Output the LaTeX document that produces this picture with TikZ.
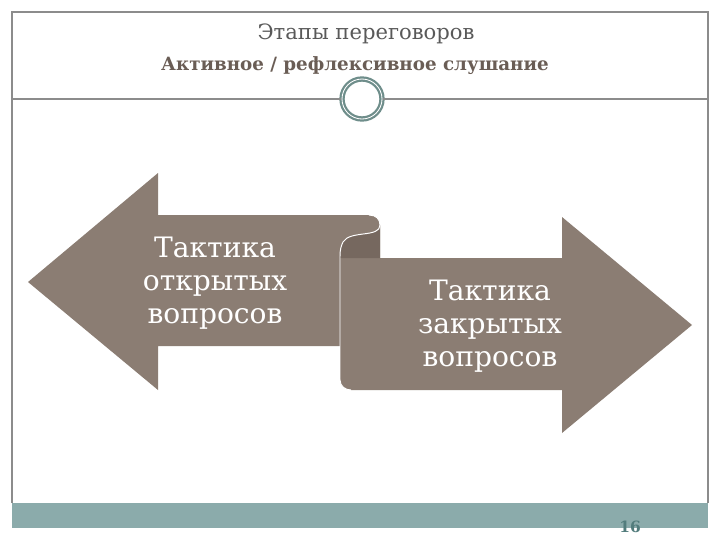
\documentclass[tikz,border=0pt]{standalone}
\usepackage{fontspec}
\setmainfont{DejaVu Serif}
\usepackage{xcolor}
\definecolor{colorShape}{HTML}{8B7D73}
\definecolor{colorCurl}{HTML}{76685F}
\definecolor{colorBar}{HTML}{8BABAB}
\definecolor{colorFrame}{HTML}{8C8C8C}
\definecolor{colorRing}{HTML}{6F8E8B}
\definecolor{colorTitle}{HTML}{595959}
\definecolor{colorSub}{HTML}{6A5D55}
\definecolor{colorNum}{HTML}{527C7C}
\usetikzlibrary{positioning}
\tikzset{shapetext/.style={text=white, align=center, font=\fontsize{20}{23.4}\selectfont}, frameline/.style={draw=colorFrame, line width=0.8pt}}

\begin{document}
\begin{tikzpicture}[x=0.025cm, y=-0.025cm]
\useasboundingbox (0,0) rectangle (720,540);
\draw[frameline] (12,503) -- (12,12) -- (708,12) -- (708,503);
\fill[colorBar] (12,503) rectangle (708,528);
\node[font=\fontsize{15}{17}\selectfont, text=colorTitle] (title) at (366,34) {Этапы переговоров};
\node[font=\bfseries\fontsize{13}{15}\selectfont, text=colorSub] (sub) at (355,66) {Активное / рефлексивное слушание};
\node[circle, minimum size=40*0.025cm, fill=white, draw=colorRing, line width=1.6pt, double=white, double distance=0.6pt] (ring) at (362,99) {};
\coordinate (l0) at (12,99);
\coordinate (l1) at (708,99);
\draw[frameline] (l0) -- (ring.west);
\draw[frameline] (ring.east) -- (l1);
\fill[colorShape] (28,282) -- (158,173) -- (158,215) -- (369,215) .. controls (376,215) and (380,219) .. (380,225) .. controls (380,238) and (350,230) .. (343,242) .. controls (341,246) and (340,250) .. (340,256) -- (340,346) -- (158,346) -- (158,390) -- cycle;
\fill[colorShape] (340,256) .. controls (340,250) and (341,246) .. (343,242) .. controls (350,230) and (380,238) .. (380,225) -- (380,258) -- (562,258) -- (562,217) -- (692,325) -- (562,433) -- (562,390) -- (351,390) .. controls (345,390) and (340,386) .. (340,380) -- cycle;
\fill[colorCurl] (340,256) .. controls (340,250) and (341,246) .. (343,242) .. controls (350,230) and (380,238) .. (380,225) -- (380,258) -- (340,258) -- cycle;
\draw[white, line width=0.7pt] (369,215) .. controls (376,215) and (380,219) .. (380,225) .. controls (380,238) and (350,230) .. (343,242) .. controls (341,246) and (340,250) .. (340,256) -- (340,380) .. controls (340,386) and (345,390) .. (351,390);
\node[shapetext] (open) at (215,283) {Тактика\\открытых\\вопросов};
\node[shapetext] (closed) at (490,326) {Тактика\\закрытых\\вопросов};
\node[font=\bfseries\fontsize{11}{13}\selectfont, text=colorNum] (num) at (630,527) {16};
\end{tikzpicture}
\end{document}
